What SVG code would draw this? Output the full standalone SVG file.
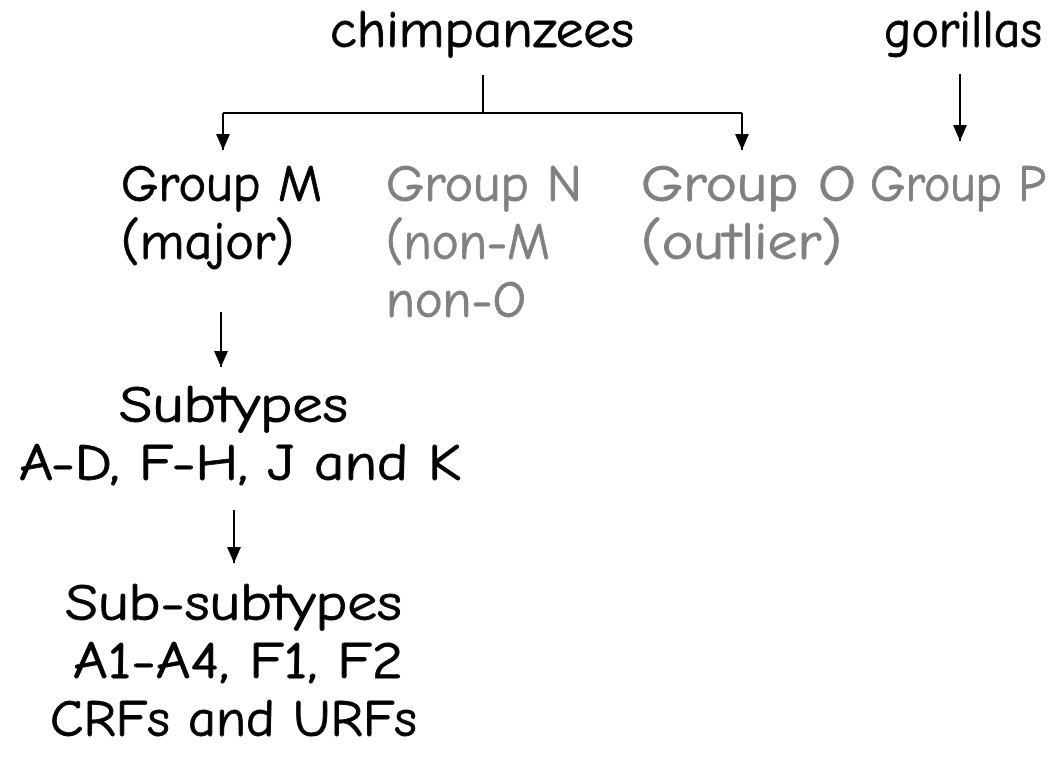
<svg xmlns="http://www.w3.org/2000/svg" width="1059" height="758" viewBox="0 0 1059 758">
<style>
text{font-family:"Comic Sans MS","Comic Neue","DejaVu Sans",sans-serif;font-size:52px;fill:#000;stroke:#000;stroke-width:0.9}
text.g{fill:#808080;stroke:#808080}
.ln{stroke:#000;stroke-width:2;fill:none}
</style>
<defs>
<marker id="ah" markerUnits="userSpaceOnUse" markerWidth="16" markerHeight="14" refX="16" refY="7" orient="auto" viewBox="0 0 16 14">
<path d="M0,0 L16,7 L0,14 Z" fill="#000"/>
</marker>
</defs>
<rect width="1059" height="758" fill="#fff"/>
<g id="connectors">
<path class="ln" d="M483,75 V113"/>
<path class="ln" d="M223,113 H742"/>
<path class="ln" d="M223,113 V150" marker-end="url(#ah)"/>
<path class="ln" d="M742,113 V150" marker-end="url(#ah)"/>
<path class="ln" d="M960,74 V141" marker-end="url(#ah)"/>
<path class="ln" d="M221,312 V367" marker-end="url(#ah)"/>
<path class="ln" d="M234,510 V563" marker-end="url(#ah)"/>
</g>
<g id="chimpanzees"><text x="330" y="47" textLength="304" lengthAdjust="spacingAndGlyphs">chimpanzees</text></g>
<g id="gorillas"><text x="884" y="47" textLength="158" lengthAdjust="spacingAndGlyphs">gorillas</text></g>
<g id="groupM">
<text x="121" y="201" textLength="201" lengthAdjust="spacingAndGlyphs">Group M</text>
<text x="121" y="259" textLength="173" lengthAdjust="spacingAndGlyphs">(major)</text>
</g>
<g id="groupN">
<text class="g" x="386" y="201" textLength="196" lengthAdjust="spacingAndGlyphs">Group N</text>
<text class="g" x="386" y="259" textLength="164" lengthAdjust="spacingAndGlyphs">(non-M</text>
<text class="g" x="386" y="317" textLength="140" lengthAdjust="spacingAndGlyphs">non-O</text>
</g>
<g id="groupO">
<text class="g" x="641" y="201" textLength="215" lengthAdjust="spacingAndGlyphs">Group O</text>
<text class="g" x="641" y="259" textLength="201" lengthAdjust="spacingAndGlyphs">(outlier)</text>
</g>
<g id="groupP"><text class="g" x="870" y="201" textLength="176" lengthAdjust="spacingAndGlyphs">Group P</text></g>
<g id="subtypes">
<text x="119" y="422" textLength="229" lengthAdjust="spacingAndGlyphs">Subtypes</text>
<text x="19" y="480" textLength="442" lengthAdjust="spacingAndGlyphs">A-D, F-H, J and K</text>
</g>
<g id="subsubtypes">
<text x="65" y="620" textLength="337" lengthAdjust="spacingAndGlyphs">Sub-subtypes</text>
<text x="73" y="678" textLength="330" lengthAdjust="spacingAndGlyphs">A1-A4, F1, F2</text>
<text x="50" y="736" textLength="367" lengthAdjust="spacingAndGlyphs">CRFs and URFs</text>
</g>
</svg>
